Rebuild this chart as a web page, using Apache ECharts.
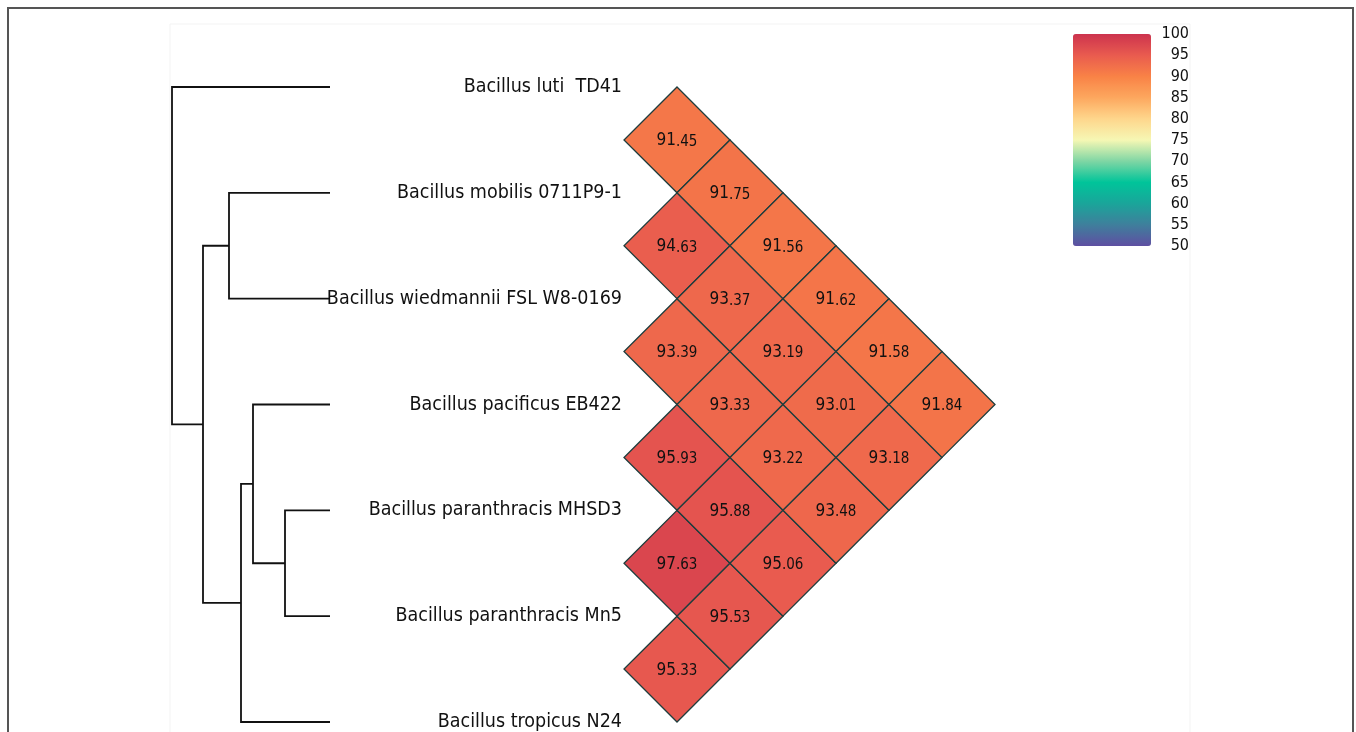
<!DOCTYPE html>
<html>
<head>
<meta charset="utf-8">
<script src="https://cdn.jsdelivr.net/npm/echarts@6/dist/echarts.min.js"></script>
<style>
  html, body { margin: 0; padding: 0; background: #fff; }
  #chart { width: 1356px; height: 732px; }
</style>
</head>
<body>
<div id="chart"></div>
<script>
// leaf order, top to bottom
const leaves = [
  "Bacillus luti  TD41",
  "Bacillus mobilis 0711P9-1",
  "Bacillus wiedmannii FSL W8-0169",
  "Bacillus pacificus EB422",
  "Bacillus paranthracis MHSD3",
  "Bacillus paranthracis Mn5",
  "Bacillus tropicus N24"
];

// ANI values by diagonal: diagK[i] = pair (i, i+K)
const diag1 = [91.45, 94.63, 93.39, 95.93, 97.63, 95.33];
const diag2 = [91.75, 93.37, 93.33, 95.88, 95.53];
const diag3 = [91.56, 93.19, 93.22, 95.06];
const diag4 = [91.62, 93.01, 93.48];
const diag5 = [91.58, 93.18];
const diag6 = [91.84];

// dendrogram merges (leaves 0..6, new nodes 7..)
const mergeA = [4, 3, 8, 1, 10, 0];
const mergeB = [5, 7, 6, 2, 9, 11];
const mergeHeight = [45, 77, 89, 101, 127, 158];

// colour scale (50 -> 100)
const scaleColors = ["#5e4fa2", "#3f7f9c", "#1aa59a", "#00c49a", "#7fd6a4", "#f6f7b4", "#fed68c", "#fda75e", "#f98246", "#e95b4f", "#cc334e"];

const labelFont = "'Liberation Sans Narrow', 'DejaVu Sans Condensed', Roboto, sans-serif";

const cells = [];
[diag1, diag2, diag3, diag4, diag5, diag6].forEach((d, k) => {
  d.forEach((v, i) => cells.push([k + 1, i + (k + 1) / 2, v]));
});

// node positions for dendrogram
const nodeX = leaves.map(() => 0);
const nodeY = leaves.map((_, i) => i);
const branches = [];
mergeA.forEach((a, m) => {
  const b = mergeB[m];
  const h = mergeHeight[m];
  branches.push({ coords: [[nodeX[a], nodeY[a]], [h, nodeY[a]], [h, nodeY[b]], [nodeX[b], nodeY[b]]] });
  nodeX.push(h);
  nodeY.push((nodeY[a] + nodeY[b]) / 2);
});

const chart = echarts.init(document.getElementById("chart"));

function renderCell(params, api) {
  const x = api.value(0), y = api.value(1), v = api.value(2);
  const pts = [
    api.coord([x, y - 0.5]),
    api.coord([x + 1, y]),
    api.coord([x, y + 0.5]),
    api.coord([x - 1, y])
  ];
  const c = api.coord([x, y]);
  const parts = v.toFixed(2).split(".");
  return {
    type: "group",
    children: [
      {
        type: "polygon",
        shape: { points: pts },
        style: { fill: api.visual("color"), stroke: "#1e3d3d", lineWidth: 1.3 }
      },
      {
        type: "text",
        x: c[0],
        y: c[1] + 1,
        style: {
          text: "{a|" + parts[0] + "}{b|." + parts[1] + "}",
          align: "center",
          verticalAlign: "middle",
          rich: {
            a: { fontSize: 17, fontFamily: labelFont, fill: "#111" },
            b: { fontSize: 15, fontFamily: labelFont, fill: "#111", padding: [2, 0, 0, 0] }
          }
        }
      }
    ]
  };
}

const option = {
  animation: false,
  backgroundColor: "#fff",
  graphic: [
    { type: "rect", shape: { x: 8, y: 8, width: 1345, height: 740 }, style: { fill: "none", stroke: "#555", lineWidth: 2 } },
    { type: "rect", shape: { x: 170, y: 24, width: 1020, height: 720 }, style: { fill: "none", stroke: "#f3f3f3", lineWidth: 1 } }
  ],
  grid: [
    { left: 172, top: 87, width: 158, height: 635 },
    { left: 624, top: 87, width: 371, height: 635 },
    { left: 1073, top: 34, width: 78, height: 212 }
  ],
  xAxis: [
    { gridIndex: 0, type: "value", min: 0, max: 158, inverse: true, show: false },
    { gridIndex: 1, type: "value", min: 0, max: 7, show: false },
    { gridIndex: 2, type: "value", min: 0, max: 1, show: false }
  ],
  yAxis: [
    { gridIndex: 0, type: "value", min: 0, max: 6, inverse: true, show: false },
    {
      gridIndex: 1, type: "value", min: 0, max: 6, interval: 1, inverse: true,
      axisLine: { show: false }, axisTick: { show: false }, splitLine: { show: false },
      axisLabel: {
        margin: 2, color: "#111", fontSize: 19.5, fontFamily: labelFont,
        formatter: (v) => leaves[v] || ""
      }
    },
    {
      gridIndex: 2, type: "value", min: 50, max: 100, interval: 5, position: "right",
      axisLine: { show: false }, axisTick: { show: false }, splitLine: { show: false },
      axisLabel: { margin: 38, align: "right", color: "#111", fontSize: 16, fontFamily: labelFont }
    }
  ],
  visualMap: {
    type: "continuous",
    min: 50, max: 100,
    dimension: 2,
    seriesIndex: 1,
    calculable: false,
    left: 1058, top: 19,
    itemWidth: 78, itemHeight: 212,
    text: null,
    showLabel: false,
    inRange: { color: scaleColors }
  },
  series: [
    {
      type: "lines",
      coordinateSystem: "cartesian2d",
      xAxisIndex: 0, yAxisIndex: 0,
      polyline: true,
      silent: true,
      lineStyle: { color: "#111", width: 1.8, opacity: 1 },
      data: branches
    },
    {
      type: "custom",
      xAxisIndex: 1, yAxisIndex: 1,
      renderItem: renderCell,
      data: cells
    }
  ]
};

chart.setOption(option);
</script>
</body>
</html>
